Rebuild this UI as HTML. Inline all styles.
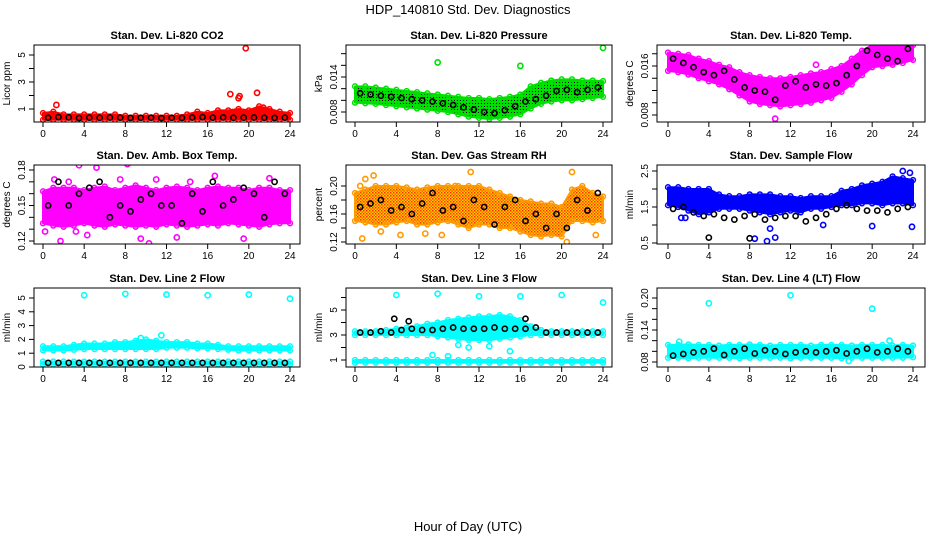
<!DOCTYPE html>
<html><head><meta charset="utf-8">
<style>
html,body{margin:0;padding:0;background:#fff;}
svg{display:block;font-family:"Liberation Sans",sans-serif;}
</style></head>
<body>
<svg id="chart" width="936" height="540" viewBox="0 0 936 540">
<defs>
<pattern id="pat-green" width="3" height="3" patternUnits="userSpaceOnUse"><rect width="3" height="3" fill="#00e000"/><rect x="1" y="1" width="1" height="1" fill="#000"/></pattern>
<pattern id="pat-rh" width="3" height="3" patternUnits="userSpaceOnUse"><rect width="3" height="3" fill="#ffd000"/><rect x="0" y="0" width="1.5" height="1.5" fill="#ff3000"/><rect x="1.5" y="1.5" width="1.5" height="1.5" fill="#ff6000"/></pattern>
</defs>
<text x="468" y="14" text-anchor="middle" font-size="13">HDP_140810  Std. Dev. Diagnostics</text>
<text x="468" y="531" text-anchor="middle" font-size="13">Hour of Day (UTC)</text>
</svg>
<script>
// ---------- data ----------
const hourTicks = [0,4,8,12,16,20,24];
const bandHours = [0,1,2,3,4,5,6,7,8,9,10,11,12,13,14,15,16,17,18,19,20,21,22,23,24];
const blackHours = [0.5,1.5,2.5,3.5,4.5,5.5,6.5,7.5,8.5,9.5,10.5,11.5,12.5,13.5,14.5,15.5,16.5,17.5,18.5,19.5,20.5,21.5,22.5,23.5];

const co2Hi = [0.7,0.8,0.6,0.6,0.6,0.6,0.6,0.6,0.5,0.5,0.5,0.5,0.5,0.5,0.6,0.8,0.7,0.9,0.9,1.0,0.9,1.2,1.0,0.8,0.7];
const co2Lo = [0.2,0.2,0.2,0.2,0.2,0.2,0.2,0.2,0.2,0.2,0.2,0.2,0.2,0.2,0.2,0.2,0.2,0.2,0.2,0.2,0.2,0.2,0.2,0.2,0.2];
const co2Black = [0.35,0.4,0.38,0.33,0.36,0.35,0.37,0.36,0.34,0.35,0.36,0.33,0.35,0.34,0.37,0.4,0.36,0.38,0.35,0.36,0.37,0.35,0.34,0.36];
const co2OutX = [1.3,19.7,18.2,19.0,19.1,20.8,21.4];
const co2OutY = [1.3,5.5,2.1,1.8,1.95,2.2,1.1];

const presHi = [0.0124,0.0124,0.0122,0.012,0.0118,0.0116,0.0114,0.0112,0.011,0.0108,0.0106,0.0104,0.0104,0.0102,0.0104,0.0106,0.011,0.0124,0.013,0.0134,0.0136,0.0136,0.0134,0.0134,0.0133];
const presLo = [0.0096,0.0095,0.0094,0.0092,0.009,0.0088,0.0086,0.0084,0.0082,0.008,0.0076,0.0072,0.007,0.0068,0.007,0.0072,0.0076,0.0086,0.0094,0.0098,0.01,0.01,0.0102,0.0104,0.0106];
const presBlack = [0.0112,0.011,0.0108,0.0106,0.0104,0.0102,0.01,0.0098,0.0095,0.0092,0.0088,0.0084,0.008,0.0078,0.0083,0.009,0.0098,0.0102,0.0108,0.0116,0.0118,0.0114,0.0118,0.0122];
const presOutX = [8,16,24];
const presOutY = [0.0165,0.0159,0.019];

const tempHi = [0.0182,0.018,0.0178,0.0172,0.0168,0.0162,0.0158,0.015,0.0145,0.0142,0.014,0.014,0.0142,0.0145,0.0148,0.015,0.0155,0.016,0.0172,0.0185,0.0194,0.0194,0.0194,0.0194,0.0194];
const tempLo = [0.0152,0.015,0.0146,0.014,0.0135,0.013,0.0122,0.0112,0.0102,0.0098,0.0096,0.0094,0.0096,0.0098,0.01,0.0104,0.0108,0.0118,0.013,0.0145,0.0158,0.016,0.0162,0.0165,0.017];
const tempBlack = [0.0172,0.0165,0.0158,0.015,0.0145,0.0152,0.0138,0.0125,0.012,0.0118,0.0105,0.0128,0.0135,0.0125,0.013,0.0128,0.0132,0.0145,0.016,0.0185,0.0178,0.0172,0.0168,0.0188];
const tempOutX = [10.5,14.5];
const tempOutY = [0.0074,0.0162];

const ambHi = [0.162,0.165,0.165,0.165,0.163,0.165,0.166,0.163,0.165,0.167,0.165,0.163,0.165,0.166,0.165,0.163,0.165,0.166,0.165,0.165,0.163,0.165,0.165,0.163,0.163];
const ambLo = [0.135,0.133,0.132,0.133,0.135,0.133,0.132,0.134,0.133,0.132,0.133,0.132,0.134,0.133,0.132,0.133,0.134,0.133,0.135,0.134,0.133,0.132,0.134,0.135,0.135];
const ambBlack = [0.15,0.17,0.15,0.16,0.165,0.17,0.14,0.15,0.145,0.155,0.16,0.15,0.15,0.135,0.16,0.145,0.17,0.15,0.155,0.165,0.16,0.14,0.17,0.16];
const ambOutX = [0.2,1.1,1.7,3.2,3.5,4.3,5.2,7.5,8.2,9.5,10.3,11,13,16.7,19.5,22,2.5,14.3];
const ambOutY = [0.128,0.172,0.12,0.128,0.184,0.125,0.182,0.172,0.185,0.122,0.118,0.172,0.123,0.175,0.122,0.173,0.17,0.17];

const rhHi = [0.19,0.195,0.2,0.2,0.2,0.198,0.195,0.198,0.2,0.2,0.2,0.2,0.2,0.195,0.19,0.185,0.18,0.178,0.175,0.175,0.17,0.195,0.2,0.19,0.185];
const rhLo = [0.15,0.148,0.145,0.145,0.148,0.15,0.145,0.145,0.148,0.15,0.145,0.14,0.145,0.145,0.14,0.14,0.135,0.13,0.128,0.13,0.128,0.15,0.15,0.148,0.15];
const rhBlack = [0.17,0.175,0.18,0.165,0.17,0.16,0.175,0.19,0.165,0.17,0.15,0.18,0.17,0.145,0.17,0.18,0.15,0.16,0.14,0.16,0.14,0.18,0.165,0.19];
const rhOutX = [0.5,0.7,1,1.8,2.5,4.4,6.8,8.4,9.7,11.2,21,23.3,20.5];
const rhOutY = [0.2,0.125,0.21,0.215,0.135,0.13,0.132,0.13,0.2,0.22,0.22,0.13,0.12];

const flowHi = [2.05,2.05,2.0,2.0,2.0,1.85,1.8,1.8,1.85,1.85,1.85,1.8,1.8,1.75,1.8,1.8,1.8,1.95,2.0,2.1,2.15,2.2,2.35,2.3,2.25];
const flowLo = [1.55,1.5,1.4,1.3,1.35,1.45,1.45,1.45,1.4,1.35,1.3,1.35,1.4,1.35,1.45,1.45,1.5,1.55,1.55,1.6,1.6,1.55,1.6,1.6,1.55];
const flowBlack = [1.45,1.5,1.35,1.25,1.3,1.2,1.15,1.25,1.3,1.15,1.2,1.25,1.25,1.1,1.2,1.3,1.45,1.55,1.45,1.4,1.4,1.35,1.45,1.5];
const flowOutX = [1.3,1.7,8.5,10,10.5,9.7,15.2,20,23,23.7,23.9];
const flowOutY = [1.2,1.2,0.62,0.9,0.65,0.55,1.0,0.97,2.5,2.45,0.95];
const flowBlackOutX = [4,8];
const flowBlackOutY = [0.65,0.63];

const line2Hi = [1.5,1.5,1.5,1.6,1.7,1.7,1.7,1.8,1.8,1.9,2.0,1.9,1.8,1.8,1.8,1.7,1.7,1.6,1.5,1.5,1.5,1.5,1.5,1.5,1.5];
const line2Lo = [1.2,1.2,1.2,1.25,1.3,1.3,1.3,1.3,1.3,1.3,1.3,1.3,1.4,1.4,1.4,1.35,1.35,1.3,1.25,1.2,1.2,1.2,1.2,1.2,1.2];
const line2BaseHi = [0.4,0.4,0.4,0.4,0.4,0.4,0.4,0.4,0.4,0.4,0.4,0.4,0.4,0.4,0.4,0.4,0.4,0.4,0.4,0.4,0.4,0.4,0.4,0.4,0.4];
const line2BaseLo = [0.2,0.2,0.2,0.2,0.2,0.2,0.2,0.2,0.2,0.2,0.2,0.2,0.2,0.2,0.2,0.2,0.2,0.2,0.2,0.2,0.2,0.2,0.2,0.2,0.2];
const line2Black = [0.3,0.3,0.3,0.3,0.3,0.3,0.3,0.3,0.3,0.3,0.3,0.3,0.3,0.3,0.3,0.3,0.3,0.3,0.3,0.3,0.3,0.3,0.3,0.3];
const line2OutX = [4,8,12,16,20,24,9.5,11.5];
const line2OutY = [5.2,5.3,5.25,5.2,5.25,4.95,2.1,2.3];

const line3Hi = [3.3,3.3,3.3,3.4,3.5,3.6,3.7,3.9,4.0,4.2,4.3,4.4,4.5,4.5,4.6,4.5,4.2,3.7,3.4,3.3,3.3,3.3,3.3,3.3,3.3];
const line3Lo = [3.0,3.0,3.0,3.0,3.0,3.0,3.0,3.0,2.9,2.8,2.7,2.6,2.6,2.6,2.7,2.8,2.9,3.0,3.0,3.0,3.0,3.0,3.0,3.0,3.0];
const line3BaseHi = [1.0,1.0,1.0,1.0,1.0,1.0,1.0,1.0,1.0,1.0,1.0,1.0,1.0,1.0,1.0,1.0,1.0,1.0,1.0,1.0,1.0,1.0,1.0,1.0,1.0];
const line3BaseLo = [0.78,0.78,0.78,0.78,0.78,0.78,0.78,0.78,0.78,0.78,0.78,0.78,0.78,0.78,0.78,0.78,0.78,0.78,0.78,0.78,0.78,0.78,0.78,0.78,0.78];
const line3Black = [3.2,3.2,3.3,3.2,3.4,3.5,3.4,3.4,3.5,3.6,3.5,3.5,3.5,3.6,3.5,3.5,3.5,3.6,3.2,3.2,3.2,3.2,3.2,3.2];
const line3OutX = [4,8,12,16,20,24,11,15,7.5,9,10,13];
const line3OutY = [6.2,6.3,6.1,6.1,6.2,5.6,2.0,1.7,1.4,1.3,2.2,2.1];
const line3BlackOutX = [3.8,5.2,16.5];
const line3BlackOutY = [4.3,4.1,4.3];

const line4Hi = [0.112,0.112,0.113,0.112,0.112,0.111,0.112,0.112,0.113,0.112,0.111,0.112,0.112,0.112,0.111,0.112,0.112,0.112,0.111,0.112,0.112,0.112,0.111,0.112,0.111];
const line4Lo = [0.088,0.088,0.087,0.088,0.088,0.088,0.088,0.087,0.088,0.088,0.088,0.088,0.087,0.088,0.088,0.088,0.088,0.087,0.088,0.088,0.088,0.088,0.088,0.088,0.089];
const line4Black = [0.092,0.095,0.098,0.1,0.105,0.093,0.1,0.105,0.096,0.102,0.1,0.095,0.098,0.1,0.098,0.1,0.102,0.096,0.1,0.105,0.098,0.1,0.105,0.1];
const line4OutX = [4,12,20,1.1,17.7,21.7];
const line4OutY = [0.19,0.205,0.18,0.118,0.082,0.12];

// ---------- layout (styles / geometry) ----------
const NS = "http://www.w3.org/2000/svg";
const svg = document.getElementById('chart');
const cols = [{bx0:34,bx1:300,x0:43,x24:290},{bx0:346,bx1:612,x0:355,x24:603},{bx0:657,bx1:925,x0:668,x24:913}];
const rows = [{by0:45,by1:122},{by0:165,by1:244},{by0:288,by1:367}];

const panels = [
 {name:'co2',title:'Stan. Dev. Li-820 CO2',ylab:'Licor ppm',c:0,r:0,v0:1,p0:109,v1:5,p1:55,ticks:[1,2,3,4,5],labs:[1,3,5],col:'#ff0000',bands:[[co2Lo,co2Hi]],black:co2Black,ox:co2OutX,oy:co2OutY},
 {name:'pressure',title:'Stan. Dev. Li-820 Pressure',ylab:'kPa',c:1,r:0,v0:0.008,p0:112,v1:0.014,p1:77,ticks:[0.008,0.010,0.012,0.014,0.016,0.018],labs:[0.008,0.014],col:'#00e000',bands:[[presLo,presHi]],black:presBlack,ox:presOutX,oy:presOutY,fill:'url(#pat-green)'},
 {name:'temp',title:'Stan. Dev. Li-820 Temp.',ylab:'degrees C',c:2,r:0,v0:0.008,p0:115,v1:0.016,p1:66,ticks:[0.008,0.010,0.012,0.014,0.016,0.018],labs:[0.008,0.016],col:'#ff00ff',bands:[[tempLo,tempHi]],black:tempBlack,ox:tempOutX,oy:tempOutY},
 {name:'amb-box-temp',title:'Stan. Dev. Amb. Box Temp.',ylab:'degrees C',c:0,r:1,v0:0.12,p0:241,v1:0.18,p1:170,ticks:[0.12,0.13,0.14,0.15,0.16,0.17,0.18],labs:[0.12,0.15,0.18],col:'#ff00ff',bands:[[ambLo,ambHi]],black:ambBlack,ox:ambOutX,oy:ambOutY},
 {name:'gas-stream-rh',title:'Stan. Dev. Gas Stream RH',ylab:'percent',c:1,r:1,v0:0.12,p0:242,v1:0.20,p1:186,ticks:[0.12,0.14,0.16,0.18,0.20],labs:[0.12,0.16,0.20],col:'#ff9900',bands:[[rhLo,rhHi]],black:rhBlack,ox:rhOutX,oy:rhOutY,fill:'url(#pat-rh)'},
 {name:'sample-flow',title:'Stan. Dev. Sample Flow',ylab:'ml/min',c:2,r:1,v0:0.5,p0:243,v1:2.5,p1:171,ticks:[0.5,1,1.5,2,2.5],labs:[0.5,1.5,2.5],col:'#0000ff',bands:[[flowLo,flowHi]],black:flowBlack,ox:flowOutX,oy:flowOutY,bx:flowBlackOutX,byv:flowBlackOutY},
 {name:'line2-flow',title:'Stan. Dev. Line 2 Flow',ylab:'ml/min',c:0,r:2,v0:0,p0:367,v1:5,p1:298,ticks:[0,1,2,3,4,5],labs:[0,1,2,3,4,5],col:'#00ffff',bands:[[line2Lo,line2Hi],[line2BaseLo,line2BaseHi]],black:line2Black,ox:line2OutX,oy:line2OutY},
 {name:'line3-flow',title:'Stan. Dev. Line 3 Flow',ylab:'ml/min',c:1,r:2,v0:1,p0:360,v1:5,p1:310,ticks:[1,2,3,4,5,6],labs:[1,3,5],col:'#00ffff',bands:[[line3Lo,line3Hi],[line3BaseLo,line3BaseHi]],black:line3Black,ox:line3OutX,oy:line3OutY,bx:line3BlackOutX,byv:line3BlackOutY},
 {name:'line4-flow',title:'Stan. Dev. Line 4 (LT) Flow',ylab:'ml/min',c:2,r:2,v0:0.08,p0:362,v1:0.20,p1:298,ticks:[0.08,0.10,0.12,0.14,0.16,0.18,0.20],labs:[0.08,0.14,0.20],col:'#00ffff',bands:[[line4Lo,line4Hi]],black:line4Black,ox:line4OutX,oy:line4OutY}
];

function mk(tag, attrs, parent){
  const e = document.createElementNS(NS, tag);
  for (const k in attrs) e.setAttribute(k, attrs[k]);
  (parent||svg).appendChild(e);
  return e;
}

panels.forEach(p => {
  const C = cols[p.c], R = rows[p.r];
  const xs = h => C.x0 + (h/24)*(C.x24 - C.x0);
  const ys = v => p.p0 + (v - p.v0)*(p.p1 - p.p0)/(p.v1 - p.v0);
  const g = mk('g', {});
  
  
  const clip = mk('clipPath', {id:'clip-'+p.name}, g);
  mk('rect', {x:C.bx0, y:R.by0, width:C.bx1-C.bx0, height:R.by1-R.by0}, clip);
  const plot = mk('g', {'clip-path':'url(#clip-'+p.name+')'}, g);

  p.bands.forEach((b, bi) => {
    const lo = b[0], hi = b[1];
    let pts = bandHours.map((h,i)=> xs(h)+','+ys(hi[i]));
    pts = pts.concat(bandHours.slice().reverse().map((h,j)=>{ const i = bandHours.length-1-j; return xs(h)+','+ys(lo[i]); }));
    const poly = mk('polygon', {points:pts.join(' '), fill:p.fill||p.col, stroke:p.col, 'stroke-width':2, 'stroke-linejoin':'round'}, plot);
    
    
    bandHours.forEach((h,i) => {
      [hi[i], lo[i]].forEach(v => {
        const c = mk('circle', {cx:xs(h), cy:ys(v), r:2.4, fill:'none', stroke:p.col, 'stroke-width':1.5}, plot);
        
        
      });
    });
  });
  p.ox.forEach((h,i) => {
    const c = mk('circle', {cx:xs(h), cy:ys(p.oy[i]), r:2.6, fill:'none', stroke:p.col, 'stroke-width':1.6}, plot);
    
    
  });
  p.black.forEach((v,i) => {
    const c = mk('circle', {cx:xs(blackHours[i]), cy:ys(v), r:2.6, fill:'none', stroke:'#000', 'stroke-width':1.6}, plot);
    
    
  });
  if (p.bx) p.bx.forEach((h,i) => {
    const c = mk('circle', {cx:xs(h), cy:ys(p.byv[i]), r:2.6, fill:'none', stroke:'#000', 'stroke-width':1.6}, plot);
    
    
  });

  const box = mk('rect', {x:C.bx0, y:R.by0, width:C.bx1-C.bx0, height:R.by1-R.by0, fill:'none', stroke:'#000', 'stroke-width':1}, g);
  
  
  const t = mk('text', {x:(C.bx0+C.bx1)/2, y:R.by0-6, 'text-anchor':'middle', 'font-size':11, 'font-weight':'bold'}, g);
  t.textContent = p.title;
  
  
  mk('line', {x1:xs(0), x2:xs(24), y1:R.by1, y2:R.by1, stroke:'#000'}, g);
  hourTicks.forEach(h => {
    mk('line', {x1:xs(h), x2:xs(h), y1:R.by1, y2:R.by1+5, stroke:'#000'}, g);
    const l = mk('text', {x:xs(h), y:R.by1+15, 'text-anchor':'middle', 'font-size':10}, g);
    l.textContent = h;
    
    
  });
  p.ticks.forEach(v => {
    const y = ys(v);
    if (y < R.by0-1 || y > R.by1+1) return;
    mk('line', {x1:C.bx0-5, x2:C.bx0, y1:y, y2:y, stroke:'#000'}, g);
  });
  p.labs.forEach(v => {
    const y = ys(v);
    const lx = C.bx0 - 9;
    const l = mk('text', {x:lx, y:y, 'text-anchor':'middle', 'font-size':10, transform:'rotate(-90 '+lx+' '+y+')'}, g);
    l.textContent = p.v1 < 0.05 ? v.toFixed(3) : (p.v1 < 1 ? v.toFixed(2) : String(v));
    
    
  });
  const yl = C.bx0 - 24, ym = (R.by0+R.by1)/2;
  const ylab = mk('text', {x:yl, y:ym, 'text-anchor':'middle', 'font-size':10, transform:'rotate(-90 '+yl+' '+ym+')'}, g);
  ylab.textContent = p.ylab;
  
  
});
</script>
</body></html>
